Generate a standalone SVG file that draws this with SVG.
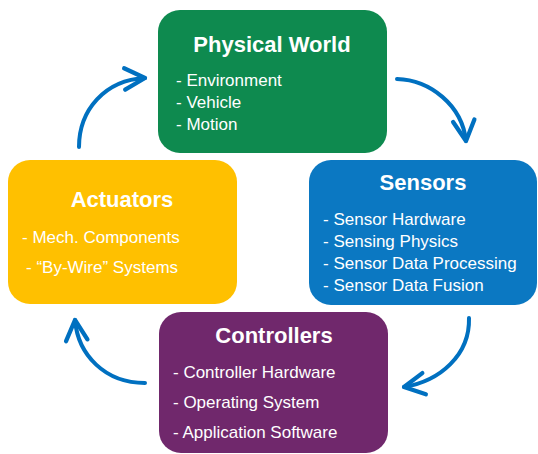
<svg xmlns="http://www.w3.org/2000/svg" width="538" height="454" viewBox="0 0 538 454">
  <defs>
    <style>
      .box { stroke: none; }
      .title { font-family: "Liberation Sans", Arial, sans-serif; font-weight: bold; font-size: 22px; fill: #ffffff; text-anchor: middle; }
      .item { font-family: "Liberation Sans", Arial, sans-serif; font-size: 17px; fill: #ffffff; }
      .flow { fill: none; stroke: #0070c0; stroke-width: 4; stroke-linecap: round; marker-end: url(#chevron); }
    </style>
    <marker id="chevron" markerUnits="userSpaceOnUse" markerWidth="30" markerHeight="30" viewBox="-24 -13 28 26" refX="0" refY="0" orient="auto">
      <path d="M-19,-10 L0,0 L-19,10" fill="none" stroke="#0070c0" stroke-width="4" stroke-linecap="round" stroke-linejoin="round"/>
    </marker>
  </defs>

  <rect width="538" height="454" fill="#ffffff"/>

  <!-- cycle arrows -->
  <g id="connectors">
    <path class="flow" d="M79,147 C79,110 105,80 145,78"/>
    <path class="flow" d="M397,79 C430,80 462,105 466,141"/>
    <path class="flow" d="M469,318 C470,355 440,381 404,387"/>
    <path class="flow" d="M145,383 C105,383 78,355 75,320"/>
  </g>

  <g id="physical-world">
    <rect class="box" x="158" y="10" width="229" height="143" rx="22" fill="#0e8a4f"/>
    <text class="title" x="272" y="52">Physical World</text>
    <text class="item" x="176" y="86">- Environment</text>
    <text class="item" x="176" y="108">- Vehicle</text>
    <text class="item" x="176" y="130">- Motion</text>
  </g>

  <g id="sensors">
    <rect class="box" x="309" y="160" width="228" height="145" rx="22" fill="#0b78c2"/>
    <text class="title" x="423" y="190">Sensors</text>
    <text class="item" x="323" y="225">- Sensor Hardware</text>
    <text class="item" x="323" y="247">- Sensing Physics</text>
    <text class="item" x="323" y="269">- Sensor Data Processing</text>
    <text class="item" x="323" y="291">- Sensor Data Fusion</text>
  </g>

  <g id="actuators">
    <rect class="box" x="8" y="160" width="229" height="144" rx="22" fill="#ffc000"/>
    <text class="title" x="122" y="207">Actuators</text>
    <text class="item" x="22" y="243">- Mech. Components</text>
    <text class="item" x="26" y="273">- “By-Wire” Systems</text>
  </g>

  <g id="controllers">
    <rect class="box" x="159" y="312" width="229" height="141" rx="22" fill="#70286c"/>
    <text class="title" x="274" y="343">Controllers</text>
    <text class="item" x="173" y="378">- Controller Hardware</text>
    <text class="item" x="173" y="408">- Operating System</text>
    <text class="item" x="173" y="438">- Application Software</text>
  </g>
</svg>
